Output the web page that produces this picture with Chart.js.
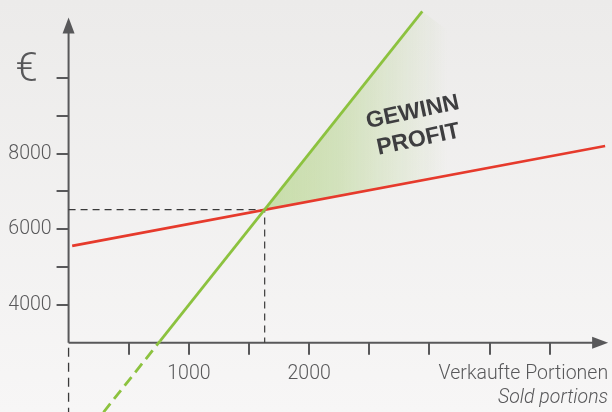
<!DOCTYPE html>
<html lang="de">
<head>
    <meta charset="UTF-8">
    <title>Gewinnschwelle</title>
    <script src="https://cdn.jsdelivr.net/npm/chart.js"></script>
    <style>
        html, body {
            margin: 0;
            padding: 0;
        }
        body {
            width: 612px;
            height: 412px;
            overflow: hidden;
            background: linear-gradient(#ecebea, #f7f6f6);
        }
        canvas {
            display: block;
        }
    </style>
</head>
<body>
    <canvas id="breakEvenChart" width="612" height="412"></canvas>

    <script>
        // Achsen-Ticks und Beschriftungen
        const yTicks = [4000, 5000, 6000, 7000, 8000, 9000, 10000];
        const yLabels = [4000, 6000, 8000];
        const xTicks = [500, 1000, 1500, 2000, 2500, 3000, 3500, 4000];
        const xLabels = [1000, 2000];

        // Kosten (rot) und Umsatz (grün)
        const costX = [30, 4460];
        const costY = [5560, 8200];
        const revenueX = [760, 2940];
        const revenueY = [3040, 11760];
        const revenueDashX = [290, 760];
        const revenueDashY = [1160, 3040];

        // Gewinnschwelle
        const breakEvenX = 1630;
        const breakEvenY = 6520;

        // Wertebereich und Achsenkreuz
        const xRange = [-570, 4517];
        const yRange = [1167, 12063];
        const axisOriginY = 3000;
        const xAxisEnd = 4485;
        const yAxisEnd = 11600;
        const fadeEndX = 3150;

        const axisColor = '#58585a';
        const labelFont = '300 19.5px Roboto, "Liberation Sans", sans-serif';

        const toPoints = (xs, ys) => xs.map((x, i) => ({ x: x, y: ys[i] }));

        // Achsen mit Pfeilen, Ticks und Beschriftungen
        const axesPlugin = {
            id: 'breakEvenAxes',
            beforeDatasetsDraw(chart) {
                const { ctx, chartArea } = chart;
                const xs = chart.scales.x, ys = chart.scales.y;
                const ox = xs.getPixelForValue(0);
                const oy = ys.getPixelForValue(axisOriginY);
                const topY = ys.getPixelForValue(yAxisEnd);
                const rightX = xs.getPixelForValue(xAxisEnd);

                ctx.save();
                ctx.strokeStyle = axisColor;
                ctx.fillStyle = axisColor;
                ctx.lineWidth = 2;

                // y-Achse
                ctx.beginPath();
                ctx.moveTo(ox, topY + 14);
                ctx.lineTo(ox, oy);
                ctx.stroke();
                ctx.beginPath();
                ctx.moveTo(ox, topY);
                ctx.lineTo(ox - 6, topY + 16);
                ctx.lineTo(ox + 6, topY + 16);
                ctx.closePath();
                ctx.fill();

                // x-Achse
                ctx.beginPath();
                ctx.moveTo(ox, oy);
                ctx.lineTo(rightX - 14, oy);
                ctx.stroke();
                ctx.beginPath();
                ctx.moveTo(rightX, oy);
                ctx.lineTo(rightX - 16, oy - 6);
                ctx.lineTo(rightX - 16, oy + 6);
                ctx.closePath();
                ctx.fill();

                // Ticks
                ctx.beginPath();
                yTicks.forEach(v => {
                    const py = Math.round(ys.getPixelForValue(v));
                    ctx.moveTo(ox - 12, py);
                    ctx.lineTo(ox, py);
                });
                xTicks.forEach(v => {
                    const px = Math.round(xs.getPixelForValue(v));
                    ctx.moveTo(px, oy);
                    ctx.lineTo(px, oy + 12);
                });
                ctx.stroke();

                // gestrichelte Verlängerung der y-Achse
                ctx.strokeStyle = '#3a3a3a';
                ctx.lineWidth = 1.3;
                ctx.setLineDash([9, 6]);
                ctx.beginPath();
                ctx.moveTo(ox, oy + 5);
                ctx.lineTo(ox, chartArea.bottom);
                ctx.stroke();
                ctx.restore();
            },
            afterDatasetsDraw(chart) {
                const { ctx } = chart;
                const xs = chart.scales.x, ys = chart.scales.y;
                const ox = xs.getPixelForValue(0);
                const oy = ys.getPixelForValue(axisOriginY);
                const rightX = xs.getPixelForValue(xAxisEnd);

                ctx.save();
                ctx.fillStyle = axisColor;
                ctx.font = labelFont;
                ctx.textBaseline = 'middle';

                ctx.textAlign = 'right';
                yLabels.forEach(v => ctx.fillText(String(v), ox - 17, ys.getPixelForValue(v)));

                ctx.textAlign = 'center';
                xLabels.forEach(v => ctx.fillText(String(v), xs.getPixelForValue(v), oy + 31));

                ctx.textAlign = 'right';
                ctx.fillText('Verkaufte Portionen', rightX, oy + 31);
                ctx.font = 'italic ' + labelFont;
                ctx.fillText('Sold portions', rightX, oy + 55);

                ctx.textAlign = 'center';
                ctx.font = '300 40px Roboto, "Liberation Sans", sans-serif';
                ctx.fillText('€', ox - 42, ys.getPixelForValue(10000) - 7);

                // Gewinn-Beschriftung im Keil
                const cx = xs.getPixelForValue(2884);
                const cy = ys.getPixelForValue(8731);
                ctx.translate(cx, cy);
                ctx.rotate(-12 * Math.PI / 180);
                ctx.fillStyle = '#3e3e40';
                ctx.font = 'bold 23px "Liberation Sans", Arial, sans-serif';
                ctx.fillText('GEWINN', 0, -14);
                ctx.fillText('PROFIT', 0, 14);
                ctx.restore();
            }
        };

        const ctx = document.getElementById('breakEvenChart').getContext('2d');

        const breakEvenChart = new Chart(ctx, {
            type: 'line',
            data: {
                datasets: [
                    {
                        // Kostenlinie
                        data: toPoints(costX, costY),
                        borderColor: '#e63a2c',
                        borderWidth: 2.6,
                        pointRadius: 0,
                        fill: false,
                        order: 1
                    },
                    {
                        // Gewinnkeil zwischen Umsatz und Kosten
                        data: [
                            { x: breakEvenX, y: breakEvenY },
                            { x: revenueX[1], y: revenueY[1] },
                            { x: costX[1], y: costY[1] }
                        ],
                        borderWidth: 0,
                        borderColor: 'rgba(0,0,0,0)',
                        pointRadius: 0,
                        fill: { target: 0 },
                        backgroundColor: (context) => {
                            const chart = context.chart;
                            if (!chart.chartArea) return 'rgba(0,0,0,0)';
                            const x0 = chart.scales.x.getPixelForValue(breakEvenX);
                            const x1 = chart.scales.x.getPixelForValue(fadeEndX);
                            const g = chart.ctx.createLinearGradient(x0, 0, x1, 0);
                            g.addColorStop(0, 'rgba(141, 194, 70, 0.42)');
                            g.addColorStop(0.4, 'rgba(141, 194, 70, 0.3)');
                            g.addColorStop(0.75, 'rgba(141, 194, 70, 0.12)');
                            g.addColorStop(1, 'rgba(141, 194, 70, 0)');
                            return g;
                        },
                        order: 3
                    },
                    {
                        // Umsatzlinie
                        data: toPoints(revenueX, revenueY),
                        borderColor: '#8cc23f',
                        borderWidth: 2.8,
                        pointRadius: 0,
                        fill: false,
                        order: 0
                    },
                    {
                        // Umsatz unterhalb der x-Achse, gestrichelt
                        data: toPoints(revenueDashX, revenueDashY),
                        borderColor: '#8cc23f',
                        borderWidth: 2.8,
                        borderDash: [11, 6],
                        pointRadius: 0,
                        fill: false,
                        order: 0
                    },
                    {
                        // Hilfslinien zur Gewinnschwelle
                        data: [
                            { x: 0, y: breakEvenY },
                            { x: breakEvenX, y: breakEvenY },
                            { x: breakEvenX, y: axisOriginY }
                        ],
                        borderColor: '#3a3a3a',
                        borderWidth: 1.2,
                        borderDash: [7, 5],
                        pointRadius: 0,
                        fill: false,
                        order: 2
                    }
                ]
            },
            options: {
                responsive: false,
                animation: false,
                layout: { padding: 0 },
                plugins: {
                    legend: { display: false },
                    tooltip: { enabled: false }
                },
                scales: {
                    x: { type: 'linear', min: xRange[0], max: xRange[1], display: false },
                    y: { type: 'linear', min: yRange[0], max: yRange[1], display: false }
                }
            },
            plugins: [axesPlugin]
        });
    </script>
</body>
</html>
